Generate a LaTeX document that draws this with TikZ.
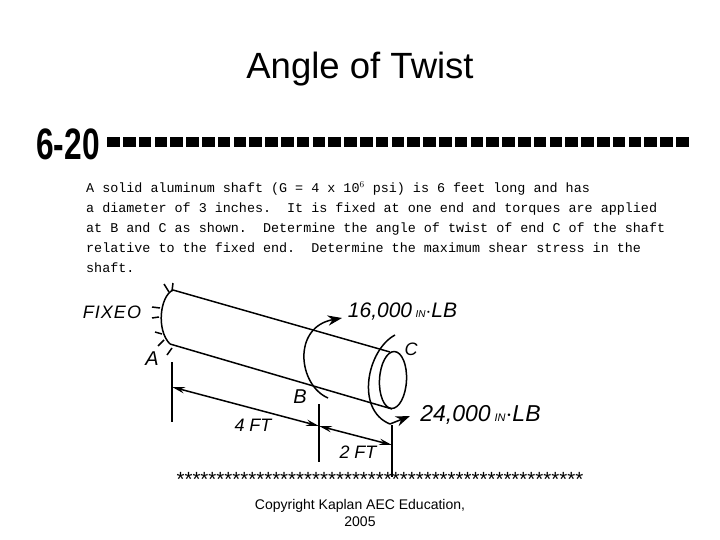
\documentclass[tikz,border=0pt]{standalone}
\usepackage{fontspec}
\setmainfont{Liberation Sans}
\setmonofont{Liberation Mono}
\usetikzlibrary{
    shapes.geometric,
    arrows.meta,
    positioning,
    calc
}
\tikzset{
    % Slide text style
    slide text/.style={
        font=\fontsize{#1}{#1}\selectfont,
        align=center,
        inner sep=0pt
    },
    % Hand lettering style
    hand text/.style={
        font=\fontsize{#1}{#1}\selectfont\itshape,
        inner sep=0pt
    },
    % Outline of the shaft
    sketch/.style={
        line width=1.5pt,
        color=black
    },
    % Arrow styles
    torque/.style={
        sketch,
        -{Stealth[length=5mm, width=3.6mm]}
    },
    dimline/.style={
        sketch,
        {Stealth[length=4.5mm, width=2.2mm]}-{Stealth[length=4.5mm, width=2.2mm]}
    }
}
\begin{document}
\begin{tikzpicture}[x=1pt, y=-1pt]
        \useasboundingbox (0, 0) rectangle (720, 540);

        % Headings
        \node[slide text=36.5] (title) at (360, 69) {Angle of Twist};
        \node[slide text=44, font=\fontsize{44}{44}\selectfont\bfseries, xscale=0.72, transform shape] (number) at (68, 144) {6-20};
        \foreach \i in {0,...,36} {
            \node[fill=black, minimum width=12.5pt, minimum height=10pt, inner sep=0pt] (bar\i) at ({113.5 + \i * 15.8}, 142.5) {};
        }

        % Problem statement
        \node[inner sep=0pt, anchor=north west, align=left, font=\fontsize{13.4}{20}\ttfamily] (problem) at (86, 181) {%
            A solid aluminum shaft (G = 4 x 10$^{6}$ psi) is 6 feet long and has\\
            a diameter of 3 inches.~~It is fixed at one end and torques are applied\\
            at B and C as shown.~~Determine the angle of twist of end C of the shaft\\
            relative to the fixed end.~~Determine the maximum shear stress in the\\
            shaft.};

        % Shaft
        \coordinate (topA) at (173, 290);
        \coordinate (botA) at (170, 344);
        \coordinate (topC) at (390, 352);
        \coordinate (botC) at (392, 409);
        \node[draw, sketch, ellipse, minimum width=27pt, minimum height=57pt, inner sep=0pt, rotate=-3] (endC) at (393, 380) {};
        \draw[sketch] (topA) -- (topC);
        \draw[sketch] (botA) -- (botC);
        \draw[sketch] (topA) .. controls (160, 296) and (156, 330) .. (botA);

        % Wall hatching at the fixed end
        \foreach \xa/\ya/\xb/\yb in {173/283/172/291, 164/284/169/292, 152/307/160/308, 152/318/159/317, 155/332/162/334, 158/346/164/340, 167/355/172/348} {
            \draw[sketch] (\xa, \ya) -- (\xb, \yb);
        }

        % Torques
        \coordinate (startB) at (328, 398);
        \coordinate (endB) at (342, 318);
        \coordinate (startC) at (395, 335);
        \coordinate (midC) at (390, 424);
        \coordinate (endC2) at (410, 416);
        \draw[torque] (startB) .. controls (298, 385) and (292, 327) .. (endB);
        \draw[sketch] (startC) .. controls (367, 350) and (355, 410) .. (midC);
        \draw[torque] (midC) -- (endC2);

        % Dimension lines
        \coordinate (extA1) at (172, 362);
        \coordinate (extA2) at (172, 422);
        \coordinate (extB1) at (319, 404);
        \coordinate (extB2) at (319, 462);
        \coordinate (extC1) at (392, 425);
        \coordinate (extC2) at (392, 477);
        \coordinate (dimA) at (172, 387);
        \coordinate (dimB) at (319, 426);
        \coordinate (dimC) at (392, 445);
        \draw[sketch] (extA1) -- (extA2);
        \draw[sketch] (extB1) -- (extB2);
        \draw[sketch] (extC1) -- (extC2);
        \draw[dimline] (dimA) -- (dimB);
        \draw[dimline] (dimB) -- (dimC);

        % Hand lettering
        \node[hand text=18] (fixed) at (112, 312) {F\kern1pt I\kern1pt X\kern1pt E\kern1pt O};
        \node[hand text=20] (labelA) at (152, 359) {A};
        \node[hand text=20] (labelB) at (300, 397) {B};
        \node[hand text=18] (labelC) at (411, 349) {C};
        \node[hand text=21] (moment1) at (402.5, 312) {16,000\,{\fontsize{10}{10}\selectfont IN}$\cdot$LB};
        \node[hand text=23] (moment2) at (480.5, 415) {24,000\,{\fontsize{11}{11}\selectfont IN}$\cdot$LB};
        \node[hand text=18] (four) at (253, 425) {4 FT};
        \node[hand text=18] (two) at (358, 452) {2 FT};

        % Rule of stars and footer
        \node[inner sep=0pt, font=\fontsize{20.5}{20.5}\selectfont] (stars) at (380, 479) {***************************************************};
        \node[slide text=14, font=\fontsize{14}{17}\selectfont] (copyright) at (360, 512.5) {Copyright Kaplan AEC Education,\\2005};

\end{tikzpicture}
\end{document}
